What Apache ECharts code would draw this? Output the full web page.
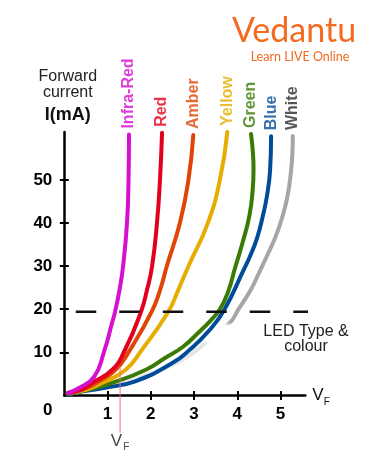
<!DOCTYPE html>
<html><head><meta charset="utf-8">
<script src="https://cdn.jsdelivr.net/npm/echarts@6/dist/echarts.min.js"></script>
<style>html,body{margin:0;padding:0;background:#fff}#c{width:371px;height:470px}</style>
</head><body><div id="c"></div>
<script>
// ---- data (forward voltage V, forward current mA) ----
const categories = ['Infra-Red', 'Red', 'Amber', 'Yellow', 'Green', 'Blue', 'White'];
const infraRed = [[0.086,0.58],[0.34,1.74],[0.687,4.29],[0.918,10.1],[1.103,16.8],[1.173,19.4],[1.277,24.5],[1.357,29.8],[1.45,40],[1.485,50],[1.496,60.5]];
const red      = [[0.086,0.58],[0.363,1.28],[0.641,2.9],[1.103,5.91],[1.402,10.55],[1.774,19.43],[1.913,24.5],[2.029,29.9],[2.144,40.1],[2.213,50.1],[2.26,60.9]];
const amber    = [[0.086,0.58],[0.409,1.28],[0.733,2.9],[1.179,5.91],[1.519,10.55],[2.021,19.43],[2.216,24.5],[2.368,29.9],[2.676,40.1],[2.872,50.1],[2.983,60.4]];
const yellow   = [[0.086,0.58],[0.479,1.28],[0.872,2.9],[1.411,5.91],[1.79,10.55],[2.405,19.43],[2.636,24.5],[2.868,29.9],[3.323,40.1],[3.6,50.1],[3.77,61.1]];
const green    = [[0.086,0.46],[0.564,1.39],[1.103,2.9],[1.873,5.91],[2.329,8.69],[2.745,11.31],[3.092,14.49],[3.393,17.5],[3.601,20.06],[3.786,24.0],[3.948,29.56],[4.133,35.82],[4.283,41.85],[4.355,47.5],[4.376,52.5],[4.36,56.5],[4.318,60.63]];
const blue     = [[0.086,0.35],[0.4,0.9],[0.94,1.8],[1.64,3.3],[2.48,7.4],[2.9,10.6],[3.36,15.2],[3.7,19.9],[4.15,29.2],[4.295,32.3],[4.457,36.5],[4.597,41.9],[4.69,46.5],[4.759,52.3],[4.782,60.1]];
const white    = [[0.086,0.35],[1.288,2.9],[2.213,5.91],[2.907,9.39],[3.293,12.47],[3.832,16.88],[4.017,19.82],[4.31,24.46],[4.511,28.63],[4.686,32.34],[4.873,36.52],[5.035,41.16],[5.162,46.26],[5.243,52.05],[5.277,56.69],[5.284,60.17]];
const xTicks = [1, 2, 3, 4, 5];
const yTicks = [10, 20, 30, 40, 50];
const thresholdCurrent = 19.4;
const thresholdSpan = [0.265, 5.745];
const markerVoltage = 1.29;
const markerSpan = [-8.6, 6.7];

// ---- styles ----
const curves = [infraRed, red, amber, yellow, green, blue, white];
const curveColors = ['#d60fd0', '#e2001e', '#e04406', '#e6ad00', '#3a7a05', '#004c99', '#a6a6a6'];
const labelColors = ['#d60fd0', '#e2001e', '#e04406', '#e6ad00', '#3a7a05', '#004c99', '#2a2a2a'];
const whiteGradient = {
  type: 'linear', x: 0, y: 0, x2: 0, y2: 1,
  colorStops: [
    { offset: 0, color: '#a6a6a6' }, { offset: 0.72, color: '#a6a6a6' },
    { offset: 0.735, color: 'rgba(255,255,255,0)' }, { offset: 0.78, color: 'rgba(255,255,255,0)' },
    { offset: 0.80, color: '#e4e4e4' }, { offset: 1, color: '#ececec' }
  ]
};
const FONT = 'Liberation Sans';

const series = [];
for (let i = curves.length - 1; i >= 0; i--) {
  series.push({
    name: categories[i], type: 'line', data: curves[i], smooth: 0.5,
    symbol: 'none', showSymbol: false, clip: false, silent: true, z: 2,
    lineStyle: { width: 4, color: i === 6 ? whiteGradient : curveColors[i], cap: 'round' }
  });
}
series.push({
  type: 'line', data: [[thresholdSpan[0], thresholdCurrent], [thresholdSpan[1], thresholdCurrent]],
  symbol: 'none', clip: false, silent: true, z: 3,
  lineStyle: { width: 2.5, color: '#111', type: [20.5, 23] }
});
series.push({
  type: 'line', data: [[markerVoltage, markerSpan[0]], [markerVoltage, markerSpan[1]]],
  symbol: 'none', clip: false, silent: true, z: 4,
  lineStyle: { width: 1, color: '#f36b85' }
});
series.push({
  type: 'scatter', clip: false, silent: true, symbolSize: 0, z: 5,
  data: curves.map((c, i) => ({
    value: c[c.length - 1],
    label: { color: labelColors[i], formatter: categories[i] }
  })),
  label: {
    show: true, rotate: 90, position: 'inside', align: 'left', verticalAlign: 'middle',
    offset: [6, 0], fontSize: 16, fontWeight: 'bold', fontFamily: FONT
  }
});
series.push({
  type: 'scatter', clip: false, silent: true, symbolSize: 0, z: 5,
  data: [[markerVoltage, markerSpan[0]]],
  label: {
    show: true, position: 'bottom', distance: 0, formatter: '{v|V}{f|F}',
    rich: {
      v: { fontSize: 17, lineHeight: 20, verticalAlign: 'top', color: '#111', fontFamily: FONT },
      f: { fontSize: 10, lineHeight: 10, padding: [16, 0, 0, 1], verticalAlign: 'bottom', color: '#111', fontFamily: FONT }
    }
  }
});

const baseX = { type: 'value', min: 0, max: 5.573, splitLine: { show: false }, position: 'bottom' };
const baseY = { type: 'value', min: 0, max: 61.1, splitLine: { show: false }, position: 'left' };

const option = {
  animation: false,
  backgroundColor: '#fff',
  textStyle: { fontFamily: FONT },
  grid: { left: 64.3, top: 132, width: 241, height: 263.5, containLabel: false, outerBoundsMode: 'none' },
  xAxis: [
    Object.assign({}, baseX, {
      axisLine: { onZero: false, lineStyle: { color: '#000', width: 2.5 } },
      axisTick: { show: true, length: 4.5, inside: false, customValues: xTicks, lineStyle: { color: '#000', width: 2 } },
      axisLabel: { customValues: xTicks, margin: 10, fontSize: 17, fontWeight: 'bold', color: '#000', fontFamily: FONT },
      name: '{v|V}{f|F}', nameLocation: 'end', nameGap: 7,
      nameTextStyle: {
        rich: {
          v: { fontSize: 17, lineHeight: 24, color: '#111', fontFamily: FONT },
          f: { fontSize: 10, lineHeight: 10, verticalAlign: 'bottom', color: '#111', fontFamily: FONT }
        }
      }
    }),
    Object.assign({}, baseX, {
      axisLine: { show: false, onZero: false },
      axisTick: { show: true, length: 4.5, inside: true, customValues: xTicks, lineStyle: { color: '#000', width: 2 } },
      axisLabel: { show: false }
    })
  ],
  yAxis: [
    Object.assign({}, baseY, {
      axisLine: { show: true, onZero: false, lineStyle: { color: '#000', width: 2.5 } },
      axisTick: { show: true, length: 4.5, inside: false, customValues: yTicks, lineStyle: { color: '#000', width: 2 } },
      axisLabel: { customValues: yTicks, margin: 12, fontSize: 17, fontWeight: 'bold', color: '#000', fontFamily: FONT },
      name: '{a|Forward}\n{a|current}\n{b|I(mA)}', nameLocation: 'end', nameGap: 3,
      nameTextStyle: {
        align: 'center', padding: [0, 0, 0, 7],
        rich: {
          a: { fontSize: 16, lineHeight: 16, color: '#222', fontFamily: FONT, align: 'center' },
          b: { fontSize: 18, lineHeight: 28, fontWeight: 'bold', color: '#111', fontFamily: FONT, align: 'center' }
        }
      }
    }),
    Object.assign({}, baseY, {
      axisLine: { show: false, onZero: false },
      axisTick: { show: true, length: 4.5, inside: true, customValues: yTicks, lineStyle: { color: '#000', width: 2 } },
      axisLabel: { show: false }
    })
  ],
  graphic: [
    { type: 'text', left: 43, top: 402, style: { text: '0', fontSize: 17, fontWeight: 'bold', fill: '#000', fontFamily: FONT } },
    { type: 'text', x: 306, y: 324, style: { text: 'LED Type &\ncolour', fontSize: 16, lineHeight: 15, align: 'center', fill: '#222', fontFamily: FONT } },
    { type: 'text', x: 294, y: 31, style: { text: 'Vedantu', fontSize: 34, align: 'center', verticalAlign: 'middle', fill: '#f26b21', fontFamily: 'Lato' } },
    { type: 'text', x: 300, y: 57, style: { text: 'Learn LIVE Online', fontSize: 12.5, align: 'center', verticalAlign: 'middle', fill: '#f06a20', fontFamily: 'Lato' } }
  ],
  series: series
};
const chart = echarts.init(document.getElementById('c'), null, { renderer: 'canvas' });
chart.setOption(option);
</script>
</body></html>
